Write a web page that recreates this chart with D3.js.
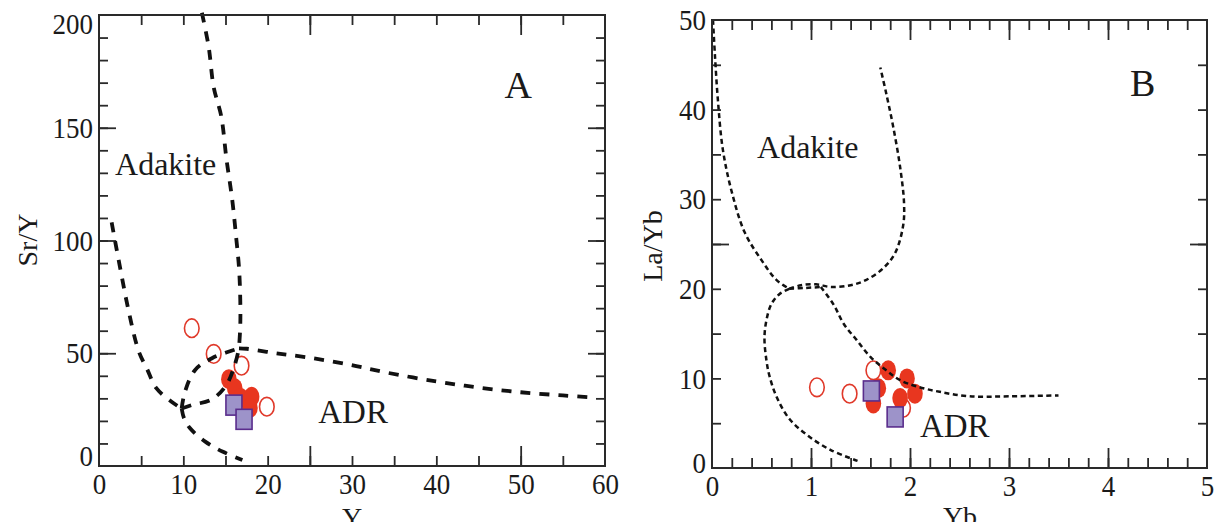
<!DOCTYPE html>
<html>
<head>
<meta charset="utf-8">
<script src="https://cdn.jsdelivr.net/npm/d3@7"></script>
<style>
body { margin: 0; background: #fff; }
text { font-family: "Liberation Serif", "Times New Roman", serif; fill: #1a1a1a; }
</style>
</head>
<body>
<svg id="chart" width="1215" height="522"></svg>
<script>
// ---- panel A : Sr/Y vs Y ----
var aOpen = [[11.0, 61.1], [13.6, 49.7], [16.9, 44.5], [19.9, 26.3]];
var aFilled = [[15.4, 38.5], [16.1, 34.5], [16.8, 30.2], [18.1, 30.7], [17.9, 25.7]];
var aSquare = [[16.0, 27.0], [17.2, 20.7]];

var aLeftCurve = [[1.5, 108], [2.5, 88], [3.5, 69], [4.7, 51], [5.7, 43], [6.8, 34.5], [8.6, 28.5], [9.8, 25.5]];
var aLowerCurve = [[9.8, 25.5], [10.1, 21], [10.8, 16.7], [12.6, 10.8], [14.7, 6.3], [17, 2.7]];
var aLensUpper = [[9.8, 25.5], [10.2, 33], [11.4, 42.6], [13.4, 47.8], [15.7, 51.1], [16.6, 52.2]];
var aLensLower = [[9.8, 25.5], [11.0, 27], [13.4, 29.6], [15.1, 35.9], [16.1, 44.8], [16.6, 52.2]];
var aVertical = [[12.2, 201], [13.0, 186], [13.6, 168], [14.5, 155], [15.1, 136.5], [15.8, 118], [16.3, 100], [16.6, 88], [16.75, 74], [16.75, 62], [16.6, 52.2]];
var aHorizontal = [[16.6, 52.2], [17.5, 52], [21, 50], [25, 48], [29.6, 45], [34, 41.5], [40, 37.5], [45, 34.8], [50, 32.7], [55, 31.3], [58, 30.5]];

var aXLabels = [0, 10, 20, 30, 40, 50, 60];
var aYLabels = [0, 50, 100, 150, 200];

// ---- panel B : La/Yb vs Yb ----
var bOpen = [[1.06, 9.0], [1.39, 8.3], [1.63, 10.9], [1.93, 6.7]];
var bFilled = [[1.78, 10.9], [1.97, 10.0], [2.05, 8.3], [1.9, 7.8], [1.68, 8.9], [1.63, 7.2]];
var bSquare = [[1.61, 8.6], [1.85, 5.7]];

var bLeftCurve = [[0.01, 50], [0.03, 46], [0.06, 41], [0.11, 35.5], [0.2, 30.8], [0.33, 26.3], [0.5, 23.2], [0.65, 21], [0.78, 20]];
var bAdakiteBase = [[0.78, 20], [0.9, 20.4], [1.05, 20.5], [1.2, 20.2], [1.4, 20.4], [1.56, 21], [1.73, 22.3], [1.85, 24], [1.93, 27], [1.94, 29.5], [1.9, 33.6], [1.83, 38.1], [1.76, 41.8], [1.7, 44.7]];
var bAdrTop = [[0.78, 20], [0.95, 20.1], [1.1, 20.2]];
var bAdrUpper = [[1.1, 20.2], [1.23, 18.2], [1.33, 16.1], [1.46, 14.3], [1.6, 12.4], [1.76, 10.9], [1.9, 9.8], [2.07, 9.1], [2.3, 8.5], [2.6, 8.0], [3.0, 8.0], [3.5, 8.1]];
var bAdrLower = [[0.78, 20], [0.68, 19.4], [0.6, 18.3], [0.55, 16.5], [0.53, 14.5], [0.55, 12], [0.58, 10.3], [0.65, 8], [0.78, 5.5], [0.97, 3.6], [1.2, 2.0], [1.47, 0.8]];

var bXLabels = [0, 1, 2, 3, 4, 5];
var bYLabels = [0, 10, 20, 30, 40, 50];

var svg = d3.select("#chart");

var RED = "#e8361f", OPEN = "#e0392a", SQ_FILL = "#9d93c9", SQ_LINE = "#5a2d8c";

function panel(o) {
  var x = d3.scaleLinear().domain(o.xDomain).range([o.left, o.right]);
  var y = d3.scaleLinear().domain(o.yDomain).range([o.bottom, o.top]);
  var g = svg.append("g");

  // tick marks on all four sides, pointing inward
  function ticks(axis, tr, vals, size) {
    g.append("g")
      .attr("transform", tr)
      .call(axis.tickValues(vals).tickSize(size).tickFormat(""))
      .call(function (s) { s.select(".domain").remove(); })
      .selectAll("line").attr("stroke", "#2a2a2a").attr("stroke-width", 1.8);
  }
  var xs = [[o.xMinor, o.xTickS], [o.xMajor, o.xTickL]];
  var ys = [[o.yMinor, o.yTickS], [o.yMajor, o.yTickL]];
  xs.forEach(function (t) {
    ticks(d3.axisBottom(x), "translate(0," + o.bottom + ")", t[0], -t[1]);
    ticks(d3.axisTop(x), "translate(0," + o.top + ")", t[0], -t[1]);
  });
  ys.forEach(function (t) {
    ticks(d3.axisLeft(y), "translate(" + o.left + ",0)", t[0], -t[1]);
    ticks(d3.axisRight(y), "translate(" + o.right + ",0)", t[0], -t[1]);
  });

  // tick labels (slightly tall glyphs like the scanned figure)
  var xl = g.append("g")
    .attr("transform", "translate(0," + o.bottom + ")")
    .call(d3.axisBottom(x).tickValues(o.xLabels).tickSize(0).tickPadding(6).tickFormat(d3.format("d")))
    .call(function (s) { s.select(".domain").remove(); })
    .attr("font-size", 27).attr("font-family", null);
  xl.selectAll(".tick text").attr("transform", "scale(1,1.12)");
  var yl = g.append("g")
    .attr("transform", "translate(" + o.left + ",0)")
    .call(d3.axisLeft(y).tickValues(o.yLabels).tickSize(0).tickPadding(6).tickFormat(d3.format("d")))
    .call(function (s) { s.select(".domain").remove(); })
    .attr("font-size", 27).attr("font-family", null);
  yl.selectAll(".tick text").attr("transform", function (d) {
    var dy = 0;
    if (d === o.yDomain[0]) dy = -o.yNudge;
    if (d === o.yDomain[1]) dy = o.yTopNudge;
    return "translate(0," + dy + ") scale(1,1.12)";
  });

  return { x: x, y: y, g: g, o: o };
}

function drawCurves(p, curves, width, dash) {
  var line = d3.line()
    .x(function (d) { return p.x(d[0]); })
    .y(function (d) { return p.y(d[1]); })
    .curve(d3.curveCatmullRom.alpha(0.5));
  curves.forEach(function (c) {
    p.g.append("path")
      .attr("d", line(c))
      .attr("fill", "none")
      .attr("stroke", "#111")
      .attr("stroke-width", width)
      .attr("stroke-dasharray", dash);
  });
}

function drawMarkers(p, open, filled, squares, curves, width, dash) {
  p.g.selectAll(null).data(open).enter().append("ellipse")
    .attr("cx", function (d) { return p.x(d[0]); })
    .attr("cy", function (d) { return p.y(d[1]); })
    .attr("rx", 7.3).attr("ry", 9.3)
    .attr("fill", "#fff").attr("stroke", OPEN).attr("stroke-width", 1.6);
  p.g.selectAll(null).data(filled).enter().append("ellipse")
    .attr("cx", function (d) { return p.x(d[0]); })
    .attr("cy", function (d) { return p.y(d[1]); })
    .attr("rx", 7.8).attr("ry", 10)
    .attr("fill", RED);
  drawCurves(p, curves, width, dash);
  p.g.selectAll(null).data(squares).enter().append("rect")
    .attr("x", function (d) { return p.x(d[0]) - 8; })
    .attr("y", function (d) { return p.y(d[1]) - 10; })
    .attr("width", 16).attr("height", 20)
    .attr("fill", SQ_FILL).attr("stroke", SQ_LINE).attr("stroke-width", 1.6);
}

function frame(p) {
  var o = p.o;
  p.g.append("rect")
    .attr("x", o.left).attr("y", o.top)
    .attr("width", o.right - o.left).attr("height", o.bottom - o.top)
    .attr("fill", "none").attr("stroke", "#2a2a2a").attr("stroke-width", 2);
}

function label(p, txt, dx, dy, size, anchor) {
  p.g.append("text")
    .attr("x", p.x(dx)).attr("y", p.y(dy))
    .attr("font-size", size)
    .attr("text-anchor", anchor || "start")
    .text(txt);
}

// ---------- panel A ----------
var A = panel({
  xDomain: [0, 60], yDomain: [0, 200],
  left: 99, right: 605, top: 15, bottom: 466,
  xMinor: d3.range(5, 60, 5), xMajor: [25, 50], xTickS: 10, xTickL: 20,
  yMinor: d3.range(10, 200, 10), yMajor: [50, 100, 150], yTickS: 9, yTickL: 17,
  xLabels: aXLabels, yLabels: aYLabels, yNudge: 10, yTopNudge: 9
});
drawMarkers(A, aOpen, aFilled, aSquare,
  [aLeftCurve, aLowerCurve, aLensUpper, aLensLower, aVertical, aHorizontal], 3.8, "10,9");
frame(A);
label(A, "Adakite", 1.9, 129, 32);
label(A, "ADR", 26, 19.1, 33);
label(A, "A", 49.7, 163, 38, "middle");

A.g.append("text")
  .attr("transform", "translate(37,240) rotate(-90)")
  .attr("text-anchor", "middle").attr("font-size", 28).text("Sr/Y");
A.g.append("text")
  .attr("x", 352).attr("y", 527)
  .attr("text-anchor", "middle").attr("font-size", 28).text("Y");

// ---------- panel B ----------
var B = panel({
  xDomain: [0, 5], yDomain: [0, 50],
  left: 712, right: 1207, top: 20, bottom: 468,
  xMinor: d3.range(0.2, 5, 0.2), xMajor: [1, 2, 3, 4], xTickS: 10, xTickL: 20,
  yMinor: d3.range(5, 50, 5), yMajor: [25], yTickS: 9, yTickL: 17,
  xLabels: bXLabels, yLabels: bYLabels, yNudge: 5, yTopNudge: 0
});
drawMarkers(B, bOpen, bFilled, bSquare,
  [bLeftCurve, bAdakiteBase, bAdrTop, bAdrUpper, bAdrLower], 2.5, "5,3.5");
frame(B);
label(B, "Adakite", 0.455, 34.6, 32);
label(B, "ADR", 2.1, 3.46, 33);
label(B, "B", 4.35, 41.5, 38, "middle");

B.g.append("text")
  .attr("transform", "translate(662,246) rotate(-90)")
  .attr("text-anchor", "middle").attr("font-size", 28).text("La/Yb");
B.g.append("text")
  .attr("x", 960).attr("y", 526)
  .attr("text-anchor", "middle").attr("font-size", 28).text("Yb");
</script>
</body>
</html>
